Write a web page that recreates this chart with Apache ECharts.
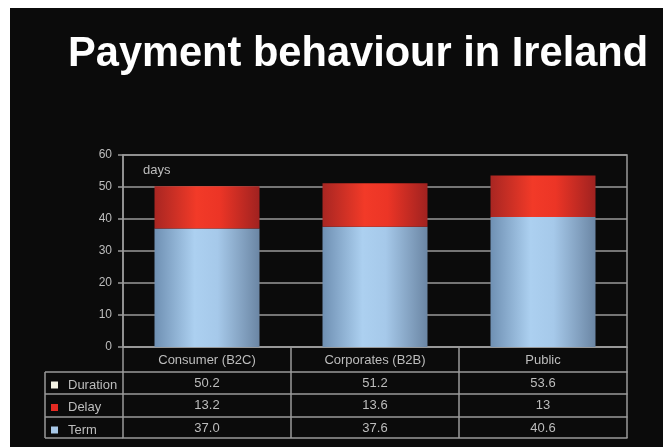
<!DOCTYPE html>
<html>
<head>
<meta charset="utf-8">
<script src="https://cdn.jsdelivr.net/npm/echarts@6/dist/echarts.min.js"></script>
<style>
html,body{margin:0;padding:0;background:#fff;}
#c{width:663px;height:447px;
background: linear-gradient(#fff,#fff) 0 0/10px 100% no-repeat, linear-gradient(#fff,#fff) 0 0/100% 8px no-repeat, #0b0b0b;}
</style>
</head>
<body>
<div id="c"></div>
<script>
const categories = ['Consumer (B2C)', 'Corporates (B2B)', 'Public'];
const termValues = [37.0, 37.6, 40.6];
const delayValues = [13.2, 13.6, 13];
const durationValues = [50.2, 51.2, 53.6];
const yTicks = [0, 10, 20, 30, 40, 50, 60];

const termRow = termValues.map(v => v.toFixed(1));
const delayRow = delayValues.map(v => String(v));
const durationRow = durationValues.map(v => v.toFixed(1));

const lineCol = '#9a9a9a';
const txtCol = '#bdbdbd';
const font = 'Liberation Sans, Arial, sans-serif';

const chart = echarts.init(document.getElementById('c'));

function rowAxis(data, offset, showLabel) {
  return {
    type: 'category', data: data, position: 'bottom', offset: offset,
    axisLine: {show: true, lineStyle: {color: lineCol, width: 1.5}},
    axisTick: {show: false},
    splitLine: {show: false},
    axisLabel: {show: showLabel, color: txtCol, fontSize: 13, fontFamily: font, margin: 5}
  };
}

const option = {
  backgroundColor: 'transparent',
  animation: false,
  textStyle: {fontFamily: font},
  title: [
    {text: 'Payment behaviour in Ireland', left: 68, top: 34, padding: 0,
     textStyle: {color: '#ffffff', fontSize: 41.6, fontWeight: 'bold', fontFamily: font}},
    {text: 'days', left: 143, top: 164, padding: 0,
     textStyle: {color: txtCol, fontSize: 13, fontWeight: 'normal', fontFamily: font}}
  ],
  grid: {left: 123, right: 36, top: 155, bottom: 100, show: true, borderColor: lineCol, borderWidth: 1.5, containLabel: false},
  legend: {
    orient: 'vertical', left: 46, top: 373.5, itemWidth: 7, itemHeight: 7, itemGap: 9.5,
    icon: 'rect', selectedMode: false,
    textStyle: {color: txtCol, fontSize: 13, fontFamily: font, padding: [0, 0, 0, 5]},
    data: [
      {name: 'Duration', itemStyle: {color: '#f4f2e4', opacity: 1}},
      {name: 'Delay', itemStyle: {color: '#e42a22'}},
      {name: 'Term', itemStyle: {color: '#a8c8e8'}}
    ]
  },
  xAxis: [
    {
      type: 'category', data: categories, position: 'bottom',
      axisLine: {show: true, lineStyle: {color: lineCol, width: 1.5}},
      axisTick: {show: true, alignWithLabel: false, length: 91, lineStyle: {color: lineCol, width: 1.5}},
      axisLabel: {color: txtCol, fontSize: 13, fontFamily: font, margin: 7},
      splitLine: {show: false}
    },
    rowAxis(durationRow, 25, true),
    rowAxis(delayRow, 47, true),
    rowAxis(termRow, 70, true),
    rowAxis(categories, 91, false)
  ],
  yAxis: {
    type: 'value', min: 0, max: 60, interval: 10,
    axisLine: {show: true, lineStyle: {color: lineCol, width: 1.5}},
    axisTick: {show: true, length: 5, lineStyle: {color: lineCol, width: 1.5}},
    axisLabel: {color: txtCol, fontSize: 12, fontFamily: font, margin: 11,
      formatter: v => yTicks.indexOf(v) >= 0 ? String(v) : ''},
    splitLine: {show: true, lineStyle: {color: lineCol, width: 1.5}}
  },
  series: [
    {
      name: 'Term', type: 'bar', stack: 'a', barWidth: '62.5%', data: termValues,
      itemStyle: {color: new echarts.graphic.LinearGradient(0, 0, 1, 0, [
        {offset: 0, color: '#6f90b3'},
        {offset: 0.38, color: '#acd0f0'},
        {offset: 0.6, color: '#a6c9ea'},
        {offset: 1, color: '#6b86a4'}
      ])}
    },
    {
      name: 'Delay', type: 'bar', stack: 'a', barWidth: '62.5%', data: delayValues,
      itemStyle: {color: new echarts.graphic.LinearGradient(0, 0, 1, 0, [
        {offset: 0, color: '#a82622'},
        {offset: 0.4, color: '#f23a28'},
        {offset: 0.62, color: '#ec3526'},
        {offset: 1, color: '#a02220'}
      ])}
    },
    {
      name: 'Duration', type: 'line', data: durationValues, symbol: 'none',
      itemStyle: {color: '#f4f2e4'}, lineStyle: {opacity: 0}, silent: true, z: 0
    }
  ],
  graphic: [
    {type: 'line', shape: {x1: 45, y1: 372, x2: 123, y2: 372}, style: {stroke: lineCol, lineWidth: 1.5}, silent: true},
    {type: 'line', shape: {x1: 45, y1: 394, x2: 123, y2: 394}, style: {stroke: lineCol, lineWidth: 1.5}, silent: true},
    {type: 'line', shape: {x1: 45, y1: 417, x2: 123, y2: 417}, style: {stroke: lineCol, lineWidth: 1.5}, silent: true},
    {type: 'line', shape: {x1: 45, y1: 438, x2: 123, y2: 438}, style: {stroke: lineCol, lineWidth: 1.5}, silent: true},
    {type: 'line', shape: {x1: 45, y1: 372, x2: 45, y2: 438}, style: {stroke: lineCol, lineWidth: 1.5}, silent: true}
  ]
};
chart.setOption(option);
</script>
</body>
</html>
